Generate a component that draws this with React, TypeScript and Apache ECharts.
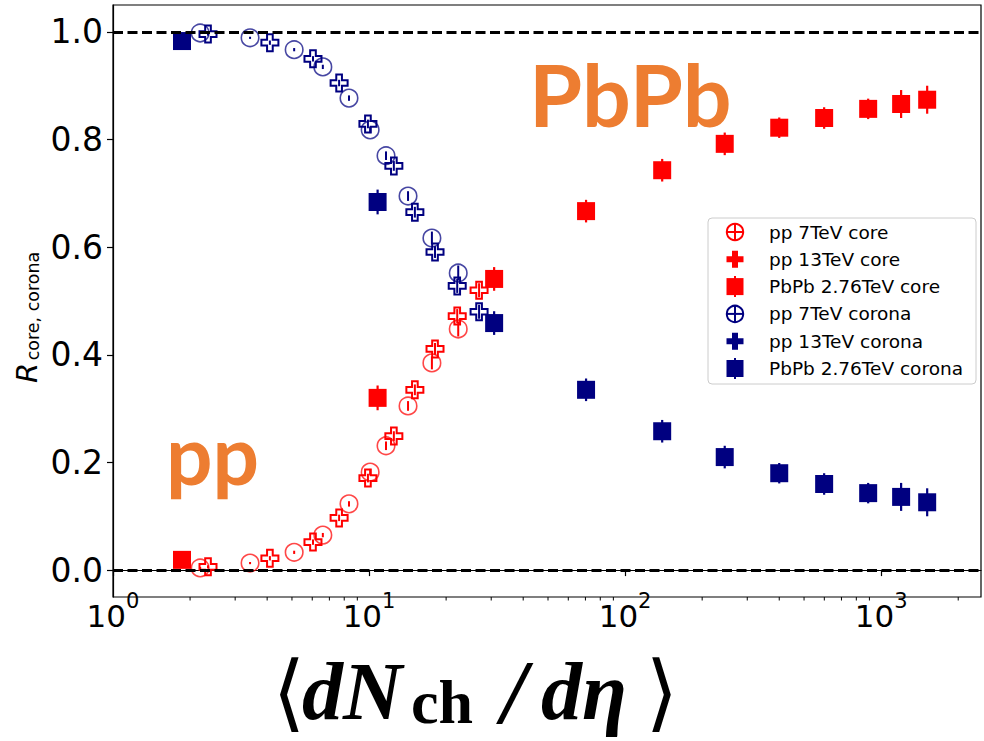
import React, { useEffect, useRef } from 'react';
import * as echarts from 'echarts';

// ---------------- data ----------------
const pp7X = [2.19, 3.43, 5.1, 6.6, 8.35, 10.1, 11.65, 14.2, 17.6, 22.3];
const pp7Core = [0.004, 0.013, 0.033, 0.065, 0.123, 0.182, 0.231, 0.305, 0.385, 0.448];
const pp7Corona = [0.998, 0.989, 0.967, 0.935, 0.877, 0.818, 0.77, 0.695, 0.617, 0.552];
const pp7Err = [0.002, 0.002, 0.003, 0.004, 0.005, 0.006, 0.008, 0.009, 0.012, 0.014];

const pp13X = [2.35, 4.1, 6.04, 7.64, 9.9, 12.5, 15.1, 18.1, 22.1, 26.9];
const pp13Core = [0.006, 0.022, 0.052, 0.097, 0.171, 0.249, 0.335, 0.411, 0.472, 0.52];
const pp13Corona = [0.996, 0.98, 0.95, 0.905, 0.829, 0.751, 0.665, 0.591, 0.528, 0.48];
const pp13Err = [0.003, 0.004, 0.005, 0.006, 0.008, 0.009, 0.01, 0.011, 0.013, 0.013];

const pbpbX = [1.86, 10.8, 30.8, 70.4, 139.6, 245, 400, 599, 890, 1197, 1513];
const pbpbCore = [0.019, 0.32, 0.541, 0.667, 0.743, 0.792, 0.822, 0.84, 0.857, 0.866, 0.874];
const pbpbCorona = [0.983, 0.684, 0.459, 0.335, 0.258, 0.21, 0.18, 0.16, 0.143, 0.136, 0.126];
const pbpbErr = [0.005, 0.023, 0.022, 0.021, 0.021, 0.021, 0.019, 0.02, 0.019, 0.026, 0.026];

const xMajorTicks = [1, 10, 100, 1000];
const xMinorTicks = [2, 3, 4, 5, 6, 7, 8, 9, 20, 30, 40, 50, 60, 70, 80, 90, 200, 300, 400, 500, 600, 700, 800, 900, 2000];
const yTicks = [0, 0.2, 0.4, 0.6, 0.8, 1.0];
const refLines = [0, 1];
const X_MIN = 1;
const X_MAX = 2455;
const Y_MIN = -0.05;
const Y_MAX = 1.05;

const legendLabels = [
  'pp 7TeV core',
  'pp 13TeV core',
  'PbPb 2.76TeV core',
  'pp 7TeV corona',
  'pp 13TeV corona',
  'PbPb 2.76TeV corona',
];

// ---------------- styles ----------------
const RED = '#ff0000';
const NAVY = '#000080';
const RED_A = 'rgba(255,0,0,0.72)';
const NAVY_A = 'rgba(0,0,128,0.72)';
const ORANGE = '#ED7D31';
const PLUS = 'path://M-1,-3L1,-3L1,-1L3,-1L3,1L1,1L1,3L-1,3L-1,1L-3,1L-3,-1L-1,-1Z';
const legendKinds = ['circle', 'plus', 'square', 'circle', 'plus', 'square'];
const legendColors = [RED, RED, RED, NAVY, NAVY, NAVY];

function pts(xs: number[], ys: number[]) {
  return xs.map((x, i) => [x, ys[i]]);
}
function errPts(xs: number[], ys: number[], es: number[]) {
  return xs.map((x, i) => [x, ys[i], es[i]]);
}

function errSeries(xs: number[], ys: number[], es: number[], color: string, width: number) {
  return {
    type: 'custom',
    silent: true,
    data: errPts(xs, ys, es),
    encode: { x: 0, y: 1 },
    renderItem: (_p: any, api: any) => {
      const x = api.value(0);
      const y = api.value(1);
      const e = api.value(2);
      const a = api.coord([x, y - e]);
      const b = api.coord([x, y + e]);
      return {
        type: 'line',
        shape: { x1: a[0], y1: a[1], x2: b[0], y2: b[1] },
        style: { stroke: color, lineWidth: width },
      };
    },
  };
}

function circleSeries(name: string, xs: number[], ys: number[], color: string) {
  return {
    type: 'scatter',
    name,
    data: pts(xs, ys),
    symbol: 'circle',
    symbolSize: 17.5,
    itemStyle: { color: 'transparent', borderColor: color, borderWidth: 1.6, opacity: 1 },
  };
}
function plusSeries(name: string, xs: number[], ys: number[], color: string) {
  return {
    type: 'scatter',
    name,
    data: pts(xs, ys),
    symbol: PLUS,
    symbolSize: 17,
    itemStyle: { color: 'transparent', borderColor: color, borderWidth: 2, opacity: 1 },
  };
}
function squareSeries(name: string, xs: number[], ys: number[], color: string) {
  return {
    type: 'scatter',
    name,
    data: pts(xs, ys),
    symbol: 'rect',
    symbolSize: 18,
    itemStyle: { color, opacity: 1 },
  };
}

function buildLegend() {
  const LX = 735;
  const LY0 = 232;
  const LDY = 27.3;
  const els: any[] = [
    {
      type: 'rect',
      shape: { x: 708, y: 218, width: 268, height: 166, r: 4 },
      style: { fill: 'rgba(255,255,255,0.85)', stroke: '#cccccc', lineWidth: 1 },
      z: 50,
    },
  ];
  legendLabels.forEach((label, i) => {
    const cy = LY0 + i * LDY;
    const c = legendColors[i];
    const kind = legendKinds[i];
    if (kind === 'circle') {
      els.push({ type: 'circle', shape: { cx: LX, cy, r: 8.2 }, style: { fill: 'none', stroke: c, lineWidth: 2 }, z: 51 });
      els.push({ type: 'line', shape: { x1: LX - 8.2, y1: cy, x2: LX + 8.2, y2: cy }, style: { stroke: c, lineWidth: 2 }, z: 51 });
      els.push({ type: 'line', shape: { x1: LX, y1: cy - 8.2, x2: LX, y2: cy + 8.2 }, style: { stroke: c, lineWidth: 2 }, z: 51 });
    } else if (kind === 'plus') {
      const s = 8.5;
      const a = 3.0;
      els.push({
        type: 'polygon',
        shape: {
          points: [
            [LX - a, cy - s], [LX + a, cy - s], [LX + a, cy - a], [LX + s, cy - a], [LX + s, cy + a], [LX + a, cy + a],
            [LX + a, cy + s], [LX - a, cy + s], [LX - a, cy + a], [LX - s, cy + a], [LX - s, cy - a], [LX - a, cy - a],
          ],
        },
        style: { fill: c },
        z: 51,
      });
    } else {
      els.push({ type: 'rect', shape: { x: LX - 8.5, y: cy - 8.5, width: 17, height: 17 }, style: { fill: c }, z: 51 });
      els.push({ type: 'line', shape: { x1: LX, y1: cy - 10.5, x2: LX, y2: cy + 10.5 }, style: { stroke: c, lineWidth: 2 }, z: 51 });
    }
    els.push({
      type: 'text',
      x: 769,
      y: cy,
      z: 51,
      style: { text: label, fill: '#000', fontSize: 18.5, fontFamily: 'DejaVu Sans', align: 'left', verticalAlign: 'middle' },
    });
  });
  return els;
}

function buildTitles() {
  const serif = '"Liberation Serif", "DejaVu Serif", serif';
  const els: any[] = [
    // big annotations
    { type: 'text', x: 529, y: 93, style: { text: 'PbPb', fill: ORANGE, fontSize: 86, fontWeight: 'bold', fontFamily: 'Lato', align: 'left', verticalAlign: 'middle' } },
    { type: 'text', x: 166, y: 453, style: { text: 'pp', fill: ORANGE, fontSize: 82, fontWeight: 'bold', fontFamily: 'Lato', align: 'left', verticalAlign: 'middle' } },
    // x title pieces
    { type: 'text', x: 289, y: 692, style: { text: '⟨', fill: '#000', fontSize: 84, fontFamily: '"DejaVu Sans", sans-serif', align: 'center', verticalAlign: 'middle' } },
    { type: 'text', x: 302, y: 691, style: { text: 'dN', fill: '#000', fontSize: 82, fontWeight: 'bold', fontStyle: 'italic', fontFamily: serif, align: 'left', verticalAlign: 'middle' } },
    { type: 'text', x: 411, y: 702, style: { text: 'ch', fill: '#000', fontSize: 62, fontWeight: 'bold', fontFamily: serif, align: 'left', verticalAlign: 'middle' } },
    { type: 'text', x: 514, y: 692, style: { text: '/', fill: '#000', fontSize: 90, fontWeight: 'bold', fontStyle: 'italic', fontFamily: serif, align: 'center', verticalAlign: 'middle' } },
    { type: 'text', x: 541, y: 691, style: { text: 'dη', fill: '#000', fontSize: 82, fontWeight: 'bold', fontStyle: 'italic', fontFamily: serif, align: 'left', verticalAlign: 'middle' } },
    { type: 'text', x: 662, y: 692, style: { text: '⟩', fill: '#000', fontSize: 84, fontFamily: '"DejaVu Sans", sans-serif', align: 'center', verticalAlign: 'middle' } },
    // y title
    { type: 'text', x: 27, y: 373, rotation: Math.PI / 2, style: { text: 'R', fill: '#000', fontSize: 29, fontStyle: 'italic', fontFamily: 'DejaVu Sans', align: 'center', verticalAlign: 'middle' } },
    { type: 'text', x: 33, y: 306, rotation: Math.PI / 2, style: { text: 'core, corona', fill: '#000', fontSize: 17.5, fontFamily: 'DejaVu Sans', align: 'center', verticalAlign: 'middle' } },
  ];
  return els;
}

const option: any = {
  animation: false,
  backgroundColor: '#ffffff',
  grid: {
    left: 113,
    top: 5,
    right: 3,
    bottom: 144,
    show: true,
    borderColor: '#000',
    borderWidth: 1.2,
    backgroundColor: 'transparent',
  },
  xAxis: {
    type: 'log',
    logBase: 10,
    min: X_MIN,
    max: X_MAX,
    axisLine: { show: true, lineStyle: { color: '#000', width: 1.2 } },
    axisTick: { show: true, length: 6, lineStyle: { color: '#000', width: 1.2 }, customValues: xMajorTicks },
    splitLine: { show: false },
    minorTick: { show: false },
    axisLabel: {
      customValues: xMajorTicks,
      margin: 1,
      formatter: (v: number) => `{b|10}{s|${Math.round(Math.log10(v))}}`,
      rich: {
        b: { fontSize: 31, fontFamily: 'DejaVu Sans', color: '#000', lineHeight: 36 },
        s: { fontSize: 21, fontFamily: 'DejaVu Sans', color: '#000', lineHeight: 22, padding: [0, 0, 30, 0] },
      },
    },
  },
  yAxis: {
    type: 'value',
    min: Y_MIN,
    max: Y_MAX,
    axisLine: { show: true, lineStyle: { color: '#000', width: 1.2 } },
    axisTick: { show: true, length: 6, lineStyle: { color: '#000', width: 1.2 }, customValues: yTicks },
    splitLine: { show: false },
    axisLabel: {
      customValues: yTicks,
      margin: 10,
      fontSize: 33,
      fontFamily: 'DejaVu Sans',
      color: '#000',
      formatter: (v: number) => v.toFixed(1),
    },
  },
  series: [
    // reference dashed lines
    {
      type: 'scatter',
      data: [],
      silent: true,
      markLine: {
        silent: true,
        symbol: ['none', 'none'],
        label: { show: false },
        lineStyle: { color: '#000', type: [10, 4.5], width: 2.8 },
        data: refLines.map((v) => ({ yAxis: v })),
      },
    },
    // minor x ticks
    {
      type: 'custom',
      silent: true,
      clip: false,
      data: xMinorTicks.map((v) => [v, Y_MIN]),
      encode: { x: 0, y: 1 },
      renderItem: (_p: any, api: any) => {
        const c = api.coord([api.value(0), Y_MIN]);
        return {
          type: 'line',
          shape: { x1: c[0], y1: c[1], x2: c[0], y2: c[1] + 3.5 },
          style: { stroke: '#000', lineWidth: 1 },
        };
      },
    },
    errSeries(pp7X, pp7Core, pp7Err, RED, 2),
    circleSeries('pp 7TeV core', pp7X, pp7Core, RED_A),
    errSeries(pp13X, pp13Core, pp13Err, RED, 2),
    plusSeries('pp 13TeV core', pp13X, pp13Core, RED),
    errSeries(pbpbX, pbpbCore, pbpbErr, RED, 2.2),
    squareSeries('PbPb 2.76TeV core', pbpbX, pbpbCore, RED),
    errSeries(pp7X, pp7Corona, pp7Err, NAVY, 2),
    circleSeries('pp 7TeV corona', pp7X, pp7Corona, NAVY_A),
    errSeries(pp13X, pp13Corona, pp13Err, NAVY, 2),
    plusSeries('pp 13TeV corona', pp13X, pp13Corona, NAVY),
    errSeries(pbpbX, pbpbCorona, pbpbErr, NAVY, 2.2),
    squareSeries('PbPb 2.76TeV corona', pbpbX, pbpbCorona, NAVY),
  ],
  graphic: { elements: [...buildLegend(), ...buildTitles()] },
};

export default function App() {
  const ref = useRef<HTMLDivElement>(null);
  useEffect(() => {
    if (!ref.current) return;
    const chart = echarts.init(ref.current, null, { renderer: 'svg' });
    chart.setOption(option);
    return () => chart.dispose();
  }, []);
  return (
    <div
      ref={ref}
      style={{ position: 'fixed', left: 0, top: 0, width: 984, height: 741, background: '#fff' }}
    />
  );
}
